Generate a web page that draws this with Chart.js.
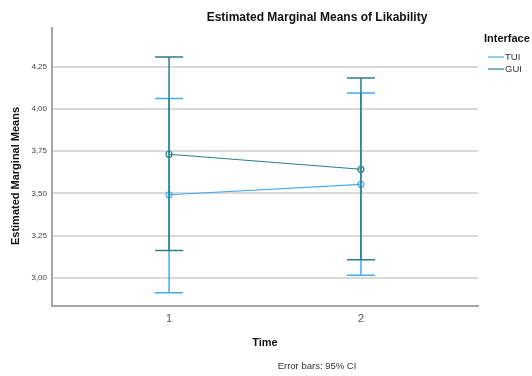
<!DOCTYPE html>
<html>
<head>
<meta charset="utf-8">
<script src="https://cdn.jsdelivr.net/npm/chart.js@4/dist/chart.umd.min.js"></script>
<style>
html,body{margin:0;padding:0;background:#fff;}
#wrap{width:532px;height:376px;position:relative;}
</style>
</head>
<body>
<div id="wrap"><canvas id="c" width="532" height="376"></canvas></div>
<script>
// ---- data ----
const times = [1, 2];
const seriesNames = ['TUI', 'GUI'];
const tuiMean = [3.492, 3.554];
const tuiLower = [2.911, 3.014];
const tuiUpper = [4.063, 4.095];
const guiMean = [3.732, 3.643];
const guiLower = [3.161, 3.106];
const guiUpper = [4.309, 4.185];
const yTicks = [3.00, 3.25, 3.50, 3.75, 4.00, 4.25];
const xTicks = [1, 2];

const TUI_COLOR = '#45aaf0';
const GUI_COLOR = '#2b7f84';
const FONT = '"Liberation Sans", Arial, sans-serif';

const errorBars = {
  id: 'errorBars',
  afterDatasetsDraw(chart) {
    const ctx = chart.ctx, xs = chart.scales.x, ys = chart.scales.y;
    const sets = [
      {lo: tuiLower, hi: tuiUpper, c: TUI_COLOR},
      {lo: guiLower, hi: guiUpper, c: GUI_COLOR}
    ];
    ctx.save();
    sets.forEach(s => {
      ctx.strokeStyle = s.c;
      ctx.lineWidth = 1.5;
      times.forEach((t, i) => {
        const x = xs.getPixelForValue(t);
        const y1 = ys.getPixelForValue(s.lo[i]);
        const y2 = ys.getPixelForValue(s.hi[i]);
        ctx.beginPath();
        ctx.moveTo(x, y1); ctx.lineTo(x, y2);
        ctx.moveTo(x - 14, y1); ctx.lineTo(x + 14, y1);
        ctx.moveTo(x - 14, y2); ctx.lineTo(x + 14, y2);
        ctx.stroke();
      });
    });
    ctx.restore();
  }
};

const annotations = {
  id: 'annotations',
  afterDraw(chart) {
    const ctx = chart.ctx;
    ctx.save();
    ctx.fillStyle = '#111';
    ctx.textBaseline = 'middle';
    // title
    ctx.font = 'bold 12px ' + FONT;
    ctx.textAlign = 'center';
    ctx.fillText('Estimated Marginal Means of Likability', 317, 18);
    // x title
    ctx.font = 'bold 11px ' + FONT;
    ctx.fillText('Time', 265, 343);
    // footnote
    ctx.font = '9.5px ' + FONT;
    ctx.fillStyle = '#333';
    ctx.fillText('Error bars: 95% CI', 317, 366);
    // y title
    ctx.save();
    ctx.fillStyle = '#111';
    ctx.font = 'bold 11px ' + FONT;
    ctx.translate(16, 176);
    ctx.rotate(-Math.PI / 2);
    ctx.fillText('Estimated Marginal Means', 0, 0);
    ctx.restore();
    // legend
    ctx.textAlign = 'left';
    ctx.fillStyle = '#111';
    ctx.font = 'bold 11px ' + FONT;
    ctx.fillText('Interface', 484, 39);
    const cols = [TUI_COLOR, GUI_COLOR];
    ctx.font = '9.5px ' + FONT;
    seriesNames.forEach((n, i) => {
      const y = 57 + i * 12;
      ctx.strokeStyle = cols[i];
      ctx.lineWidth = 1.2;
      ctx.beginPath(); ctx.moveTo(488, y); ctx.lineTo(504, y); ctx.stroke();
      ctx.fillStyle = '#333';
      ctx.fillText(n, 505, y + 0.5);
    });
    ctx.restore();
  }
};

new Chart(document.getElementById('c'), {
  type: 'line',
  data: {
    datasets: [
      {label: seriesNames[0], data: times.map((t, i) => ({x: t, y: tuiMean[i]})),
       borderColor: TUI_COLOR, borderWidth: 1.2, pointRadius: 3, pointBorderWidth: 1.2,
       pointBackgroundColor: 'rgba(0,0,0,0)', pointBorderColor: TUI_COLOR, tension: 0},
      {label: seriesNames[1], data: times.map((t, i) => ({x: t, y: guiMean[i]})),
       borderColor: GUI_COLOR, borderWidth: 1.2, pointRadius: 3, pointBorderWidth: 1.2,
       pointBackgroundColor: 'rgba(0,0,0,0)', pointBorderColor: GUI_COLOR, tension: 0}
    ]
  },
  options: {
    responsive: false,
    animation: false,
    layout: {padding: {left: 0, top: 28, right: 54, bottom: 0}},
    plugins: {legend: {display: false}, title: {display: false}, tooltip: {enabled: false}},
    scales: {
      x: {
        type: 'linear', min: 0.39, max: 2.61,
        afterBuildTicks: s => { s.ticks = xTicks.map(v => ({value: v})); },
        afterFit: s => { s.height = 70; },
        grid: {display: false, drawTicks: false},
        border: {color: '#a6a6a6', width: 2},
        ticks: {padding: 6, color: '#555', font: {family: FONT, size: 11}, callback: v => String(v)}
      },
      y: {
        type: 'linear', min: 2.832, max: 4.481,
        afterBuildTicks: s => { s.ticks = yTicks.map(v => ({value: v})); },
        afterFit: s => { s.width = 52; },
        grid: {color: '#d9d9d9', lineWidth: 2, drawTicks: false},
        border: {color: '#a6a6a6', width: 2},
        ticks: {padding: 5, color: '#444', font: {family: FONT, size: 8},
                callback: v => Number(v).toFixed(2).replace('.', ',')}
      }
    }
  },
  plugins: [errorBars, annotations]
});
</script>
</body>
</html>
